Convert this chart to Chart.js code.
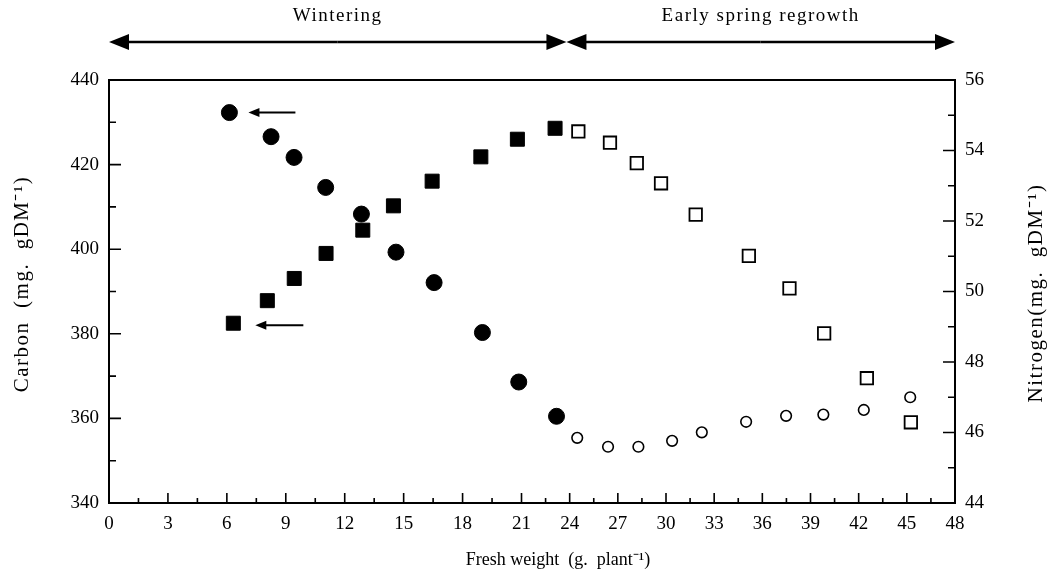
<!DOCTYPE html>
<html>
<head>
<meta charset="utf-8">
<script src="https://cdn.jsdelivr.net/npm/chart.js@4.4.1/dist/chart.umd.min.js"></script>
<style>
  html, body { margin: 0; padding: 0; background: #fff; }
</style>
</head>
<body>
<canvas id="chart" width="1047" height="581"></canvas>
<script>
// fresh weight (g. plant-1) and contents
const carbonWinterX = [6.13, 8.25, 9.42, 11.03, 12.85, 14.61, 16.55, 19.01, 20.86, 23.18];
const carbonWinter = [432.3, 426.6, 421.7, 414.6, 408.3, 399.3, 392.1, 380.3, 368.6, 360.5];
const carbonSpringX = [24.47, 26.39, 28.28, 30.38, 32.23, 34.99, 37.48, 39.80, 42.32, 45.21];
const carbonSpring = [355.4, 353.3, 353.3, 354.7, 356.7, 359.2, 360.6, 360.9, 362.0, 365.0];

const nitrogenWinterX = [6.33, 8.06, 9.43, 11.05, 12.92, 14.48, 16.45, 18.93, 20.79, 23.09];
const nitrogenWinter = [49.10, 49.74, 50.37, 51.08, 51.74, 52.43, 53.13, 53.82, 54.32, 54.63];
const nitrogenSpringX = [24.54, 26.51, 28.18, 29.69, 31.85, 35.16, 37.69, 39.85, 42.51, 45.25];
const nitrogenSpring = [54.54, 54.22, 53.64, 53.07, 52.18, 51.01, 50.09, 48.81, 47.54, 46.29];

const xRange = [0, 48];
const carbonRange = [340, 440];
const nitrogenRange = [44, 56];

const phaseLabels = ['Wintering', 'Early spring regrowth'];
const phaseBounds = [0, 23.8, 48];

// the printed axis is drawn wider below 21 than above it
const X_BREAK = 21;
const BREAK_FRAC = 0.4876;

class BrokenLinearScale extends Chart.LinearScale {
    static id = 'brokenLinear';
    static defaults = {};

    getPixelForValue(value) {
        if (value === null || value === undefined) return NaN;
        let f;
        if (value <= X_BREAK) {
            f = (value - this.min) / (X_BREAK - this.min) * BREAK_FRAC;
        } else {
            f = BREAK_FRAC + (value - X_BREAK) / (this.max - X_BREAK) * (1 - BREAK_FRAC);
        }
        return this.getPixelForDecimal(f);
    }

    getValueForPixel(pixel) {
        const f = this.getDecimalForPixel(pixel);
        if (f <= BREAK_FRAC) return this.min + f / BREAK_FRAC * (X_BREAK - this.min);
        return X_BREAK + (f - BREAK_FRAC) / (1 - BREAK_FRAC) * (this.max - X_BREAK);
    }
}
Chart.register(BrokenLinearScale);

Chart.defaults.font.family = '"Liberation Serif", "Times New Roman", serif';
Chart.defaults.font.size = 19;
Chart.defaults.color = '#000';

const pairs = (xs, ys) => xs.map((x, i) => ({ x: x, y: ys[i] }));

function arrow(ctx, x1, y1, x2, headLen, headHalf) {
    // line from x1 to x2 with a solid head at x2
    const dir = Math.sign(x2 - x1);
    ctx.beginPath();
    ctx.moveTo(x1, y1);
    ctx.lineTo(x2 - dir * headLen * 0.8, y1);
    ctx.stroke();
    ctx.beginPath();
    ctx.moveTo(x2, y1);
    ctx.lineTo(x2 - dir * headLen, y1 - headHalf);
    ctx.lineTo(x2 - dir * headLen, y1 + headHalf);
    ctx.closePath();
    ctx.fill();
}

const framePlugin = {
    id: 'frame',
    afterDraw(chart) {
        const ctx = chart.ctx;
        const a = chart.chartArea;
        const x = chart.scales.x, yC = chart.scales.yC, yN = chart.scales.yN;
        ctx.save();
        ctx.strokeStyle = '#000';
        ctx.fillStyle = '#000';

        ctx.lineWidth = 2;
        ctx.strokeRect(a.left, a.top, a.right - a.left, a.bottom - a.top);

        // inward ticks, short ones at half steps
        ctx.lineWidth = 1.6;
        ctx.beginPath();
        for (let v = x.min; v <= x.max + 0.01; v += 1.5) {
            const px = x.getPixelForValue(v);
            const len = v % 3 === 0 ? 10 : 5;
            ctx.moveTo(px, a.bottom);
            ctx.lineTo(px, a.bottom - len);
        }
        for (let v = yC.min; v <= yC.max; v += 10) {
            const py = yC.getPixelForValue(v);
            const len = v % 20 === 0 ? 12 : 7;
            ctx.moveTo(a.left, py);
            ctx.lineTo(a.left + len, py);
        }
        for (let v = yN.min; v <= yN.max; v += 1) {
            const py = yN.getPixelForValue(v);
            const len = v % 2 === 0 ? 12 : 7;
            ctx.moveTo(a.right, py);
            ctx.lineTo(a.right - len, py);
        }
        ctx.stroke();

        // pointers to the axis each series is read on
        ctx.lineWidth = 2;
        const c0 = chart.getDatasetMeta(0).data[0];
        const n0 = chart.getDatasetMeta(2).data[0];
        arrow(ctx, c0.x + 66, c0.y, c0.x + 19, 11, 4.5);
        arrow(ctx, n0.x + 70, n0.y + 2, n0.x + 22, 11, 4.5);

        // growth phases along the top
        ctx.lineWidth = 2.5;
        const arrowY = 42;
        for (let i = 0; i < phaseLabels.length; i++) {
            const p1 = x.getPixelForValue(phaseBounds[i]);
            const p2 = x.getPixelForValue(phaseBounds[i + 1]);
            const mid = (p1 + p2) / 2;
            arrow(ctx, mid, arrowY, p1, 20, 8);
            arrow(ctx, mid, arrowY, p2, 20, 8);
            ctx.font = '19px "Liberation Serif", serif';
            ctx.letterSpacing = '1.5px';
            ctx.textAlign = 'center';
            ctx.textBaseline = 'middle';
            ctx.fillText(phaseLabels[i], mid, 16);
        }

        // axis titles
        ctx.letterSpacing = '0px';
        ctx.font = '18px "Liberation Serif", serif';
        ctx.fillText('Fresh weight  (g.  plant\u207B\u00B9)', 558, 560);

        ctx.font = '21px "Liberation Serif", serif';
        ctx.letterSpacing = '1.5px';
        ctx.save();
        ctx.translate(22, 284);
        ctx.rotate(-Math.PI / 2);
        ctx.fillText('Carbon  (mg.  gDM\u207B\u00B9)', 0, 0);
        ctx.restore();
        ctx.save();
        ctx.translate(1036, 293);
        ctx.rotate(-Math.PI / 2);
        ctx.fillText('Nitrogen(mg.  gDM\u207B\u00B9)', 0, 0);
        ctx.restore();

        ctx.restore();
    }
};

const filledCircle = { pointStyle: 'circle', pointRadius: 8, backgroundColor: '#000', borderColor: '#000', borderWidth: 1 };
const openCircle = { pointStyle: 'circle', pointRadius: 5.3, backgroundColor: '#fff', borderColor: '#000', borderWidth: 1.6 };
const filledSquare = { pointStyle: 'rect', pointRadius: 9.9, backgroundColor: '#000', borderColor: '#000', borderWidth: 1 };
const openSquare = { pointStyle: 'rect', pointRadius: 8.8, backgroundColor: '#fff', borderColor: '#000', borderWidth: 1.8 };

const chart = new Chart(document.getElementById('chart'), {
    type: 'scatter',
    data: {
        datasets: [
            { label: 'Carbon, wintering', data: pairs(carbonWinterX, carbonWinter), yAxisID: 'yC', ...filledCircle },
            { label: 'Carbon, regrowth', data: pairs(carbonSpringX, carbonSpring), yAxisID: 'yC', ...openCircle },
            { label: 'Nitrogen, wintering', data: pairs(nitrogenWinterX, nitrogenWinter), yAxisID: 'yN', ...filledSquare },
            { label: 'Nitrogen, regrowth', data: pairs(nitrogenSpringX, nitrogenSpring), yAxisID: 'yN', ...openSquare }
        ]
    },
    options: {
        responsive: false,
        animation: false,
        layout: { padding: { top: 80, left: 0, right: 0, bottom: 0 } },
        plugins: {
            legend: { display: false },
            tooltip: { enabled: false }
        },
        scales: {
            x: {
                type: 'brokenLinear',
                position: 'bottom',
                min: xRange[0],
                max: xRange[1],
                ticks: { stepSize: 3, padding: 10, maxRotation: 0, autoSkip: false },
                grid: { display: false, drawTicks: false },
                border: { display: false },
                afterFit(scale) { scale.height = 78; }
            },
            yC: {
                type: 'linear',
                position: 'left',
                min: carbonRange[0],
                max: carbonRange[1],
                ticks: { stepSize: 20, padding: 10 },
                grid: { display: false, drawTicks: false },
                border: { display: false },
                afterFit(scale) { scale.width = 109; }
            },
            yN: {
                type: 'linear',
                position: 'right',
                min: nitrogenRange[0],
                max: nitrogenRange[1],
                ticks: { stepSize: 2, padding: 10 },
                grid: { display: false, drawTicks: false },
                border: { display: false },
                afterFit(scale) { scale.width = 92; }
            }
        }
    },
    plugins: [framePlugin]
});
</script>
</body>
</html>
